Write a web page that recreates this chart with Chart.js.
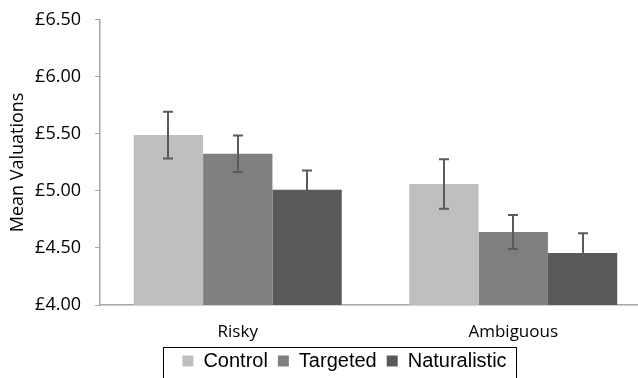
<!DOCTYPE html>
<html>
<head>
<meta charset="utf-8">
<script src="https://cdn.jsdelivr.net/npm/chart.js@4.4.0/dist/chart.umd.min.js"></script>
<style>
  html, body { margin: 0; padding: 0; background: #fff; overflow: hidden; }
  #wrap { width: 638px; height: 378px; overflow: hidden; }
</style>
</head>
<body>
<div id="wrap"><canvas id="grafico" width="651" height="378"></canvas></div>
<script>
/*** dados ***/
const categorias = ['Risky', 'Ambiguous'];
const series = ['Control', 'Targeted', 'Naturalistic'];
const controle = [5.49, 5.06];
const direcionado = [5.325, 4.64];
const naturalista = [5.01, 4.455];
const erroControle = [0.205, 0.217];
const erroDirecionado = [0.16, 0.15];
const erroNaturalista = [0.17, 0.175];
const ticksY = [4, 4.5, 5, 5.5, 6, 6.5];

const cores = ['#bfbfbf', '#7f7f7f', '#595959'];
const fonteTexto = "'Open Sans', sans-serif";

/*** plugins ***/
const barrasErro = {
  id: 'barrasErro',
  afterDatasetsDraw(chart) {
    const ctx = chart.ctx;
    const escala = chart.scales.y;
    ctx.save();
    ctx.strokeStyle = '#5b5b5b';
    ctx.lineWidth = 2;
    chart.data.datasets.forEach((ds, i) => {
      const meta = chart.getDatasetMeta(i);
      meta.data.forEach((barra, j) => {
        const topo = escala.getPixelForValue(ds.data[j] + ds.erro[j]);
        const base = escala.getPixelForValue(ds.data[j] - ds.erro[j]);
        const x = Math.round(barra.x);
        ctx.beginPath();
        ctx.moveTo(x, topo);
        ctx.lineTo(x, base);
        ctx.moveTo(x - 5, topo);
        ctx.lineTo(x + 5, topo);
        ctx.moveTo(x - 5, base);
        ctx.lineTo(x + 5, base);
        ctx.stroke();
      });
    });
    ctx.restore();
  },
};

// desloca a legenda e desenha a moldura em volta dela
const desvioLegenda = 19;
const subidaLegenda = 4;
const molduraLegenda = {
  id: 'molduraLegenda',
  afterLayout(chart) {
    const leg = chart.legend;
    leg.left += desvioLegenda;
    leg.right += desvioLegenda;
    leg.top -= subidaLegenda;
    leg.bottom -= subidaLegenda;
  },
  afterDraw(chart) {
    const leg = chart.legend;
    const pad = leg.options.labels.padding;
    const largura = leg.lineWidths[0];
    const inicio = (leg.left + pad + leg.right - largura) / 2;
    const ctx = chart.ctx;
    ctx.save();
    ctx.strokeStyle = '#000';
    ctx.lineWidth = 1;
    ctx.strokeRect(
      Math.round(inicio - 19) + 0.5,
      Math.round(leg.top + 6) + 0.5,
      Math.round(largura + 19),
      60
    );
    ctx.restore();
  },
};

/*** grafico ***/
new Chart(document.getElementById('grafico'), {
  type: 'bar',
  data: {
    labels: categorias,
    datasets: [
      { label: series[0], data: controle, erro: erroControle, backgroundColor: cores[0] },
      { label: series[1], data: direcionado, erro: erroDirecionado, backgroundColor: cores[1] },
      { label: series[2], data: naturalista, erro: erroNaturalista, backgroundColor: cores[2] },
    ],
  },
  options: {
    responsive: false,
    animation: false,
    events: [],
    layout: {
      padding: { top: 6, left: 0, right: 0, bottom: 0 },
    },
    datasets: {
      bar: {
        borderWidth: 0,
        categoryPercentage: 0.755,
        barPercentage: 1.0,
      },
    },
    plugins: {
      tooltip: { enabled: false },
      legend: {
        position: 'bottom',
        maxHeight: 33,
        labels: {
          color: '#000',
          boxWidth: 11,
          boxHeight: 11,
          padding: 10,
          font: { family: "'Liberation Sans', Arial, sans-serif", size: 20 },
        },
      },
    },
    scales: {
      x: {
        grid: { display: false },
        border: { display: true, color: '#a6a6a6', width: 1.5 },
        ticks: {
          color: '#000',
          padding: 9,
          font: { family: fonteTexto, size: 17 },
        },
        afterFit(scale) {
          scale.height = 40;
        },
      },
      y: {
        min: 4,
        max: 6.5,
        afterBuildTicks(scale) {
          scale.ticks = ticksY.map((v) => ({ value: v }));
        },
        grid: {
          display: true,
          drawOnChartArea: false,
          drawTicks: true,
          tickLength: 5,
          color: '#a6a6a6',
        },
        border: { display: true, color: '#a6a6a6', width: 1.5 },
        ticks: {
          color: '#000',
          padding: 14,
          font: { family: fonteTexto, size: 18, lineHeight: 0.65 },
          callback: function (value) {
            return '£' + Number(value).toFixed(2);
          },
        },
        title: {
          display: true,
          text: 'Mean Valuations',
          color: '#000',
          padding: { top: 7, bottom: 0 },
          font: { family: fonteTexto, size: 18 },
        },
        afterFit(scale) {
          scale.width = 100;
        },
      },
    },
  },
  plugins: [barrasErro, molduraLegenda],
});
</script>
</body>
</html>
